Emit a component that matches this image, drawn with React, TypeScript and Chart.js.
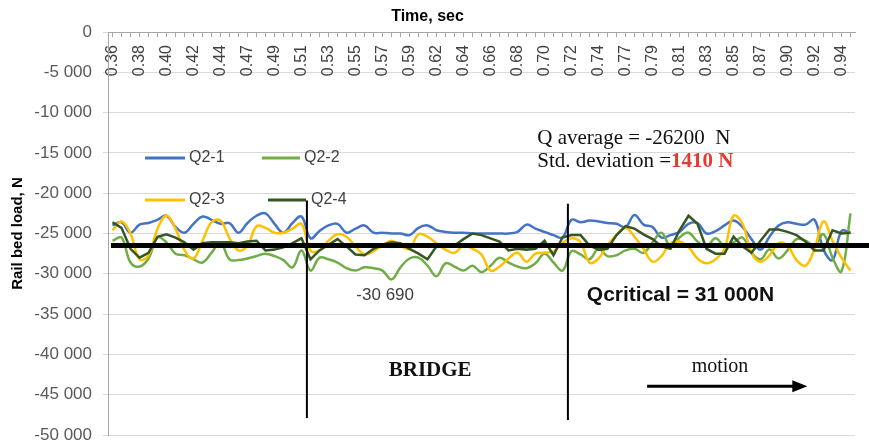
import React, { useEffect, useRef } from 'react';
import { Chart, registerables } from 'chart.js';

Chart.register(...registerables);

// ---- data ----
const timeTicks = [
  '0.36', '0.38', '0.40', '0.42', '0.44', '0.47', '0.49', '0.51', '0.53', '0.55',
  '0.57', '0.59', '0.62', '0.64', '0.66', '0.68', '0.70', '0.72', '0.74', '0.77',
  '0.79', '0.81', '0.83', '0.85', '0.87', '0.90', '0.92', '0.94',
];
const pointsPerTick = 3;

const q21 = [
  -24000, -23600, -24900, -23900, -23700, -23300, -22800, -24200, -24900, -23800,
  -22900, -23300, -23800, -23700, -24900, -23700, -22800, -22500, -23800, -24900,
  -23700, -22900, -25600, -24700, -24000, -23800, -24900, -24400, -24000, -24900,
  -24900, -25000, -25000, -25200, -24300, -24000, -24600, -24800, -24900, -24900,
  -25000, -25000, -25000, -25000, -25000, -24800, -23900, -24400, -24800, -25200,
  -25500, -23300, -23600, -23400, -23500, -23700, -23800, -24200, -22700, -23900,
  -24200, -25500, -25200, -24800, -23800, -23700, -25000, -24700, -24000, -23400,
  -24200, -25700, -27000, -25400, -24000, -23600, -23800, -23900, -23300, -27000,
  -28300, -24700, -24900,
];
const q22 = [
  -25900, -25500, -28600, -29100, -28100, -25500, -26100, -27500, -27700, -28200,
  -28600, -27400, -26100, -28200, -28300, -28100, -27800, -27500, -27800, -28300,
  -29200, -27100, -29600, -28000, -28200, -28600, -29300, -29600, -29200, -29300,
  -29600, -30690, -29200, -28100, -28000, -29000, -30300, -28700, -29100, -29600,
  -29000, -29800, -29000, -28000, -28600, -29100, -29300, -28700, -27500, -28600,
  -29600, -27200, -27600, -28200, -26900, -27800, -27700, -27100, -26900, -27400,
  -26100, -24900, -26600, -25500, -24900, -26000, -26600, -25600, -26500, -26100,
  -25500, -27400, -28200, -27000, -28100, -27100, -25700, -25900, -26500, -25100,
  -28000, -29700, -22500,
];
const q23 = [
  -24600, -23500, -25000, -28200, -27700, -24400, -22800, -24400, -27100, -28100,
  -25900, -23600, -23400, -25600, -27100, -26500, -24100, -24300, -24900, -24900,
  -24400, -23800, -27100, -27100, -25900, -25100, -25400, -26600, -27600, -27200,
  -26500, -25900, -26500, -26900, -25100, -25400, -26200, -27000, -27400, -26500,
  -26900, -27600, -29600, -29100, -28100, -27400, -28500, -27500, -27400, -27200,
  -26200, -25600, -26100, -28600, -28100, -26400, -25200, -24300, -25400, -26900,
  -28500, -27800, -26200, -26000, -26700, -28100, -28700, -28200, -26900, -22800,
  -23800, -27400, -28500, -27700, -26200, -26500, -28300, -29000, -26900, -23500,
  -25900, -28000, -29600,
];
const q24 = [
  -23600, -24300, -26900, -28000, -27400, -25400, -25100, -25500, -26100, -27000,
  -26200, -26100, -26100, -26100, -26200, -26000, -25900, -27100, -27000, -26700,
  -26200, -25600, -28200, -27100, -26400, -25700, -26600, -27600, -27700, -26900,
  -26400, -26100, -26200, -26900, -27500, -28200, -26600, -26500, -26500, -25700,
  -25000, -25200, -25600, -26000, -27100, -26900, -27000, -26900, -25900, -27700,
  -25500, -25200, -25200, -26500, -27000, -26900, -25200, -24100, -24400, -25100,
  -25700, -26600, -26900, -24600, -22800, -23800, -26900, -27500, -27500, -25400,
  -26600, -27400, -25900, -24500, -24500, -24800, -25200, -26000, -27100, -27100,
  -24600, -25000, -24900,
];

const seriesNames = ['Q2-1', 'Q2-2', 'Q2-3', 'Q2-4'];
const seriesValues = [q21, q22, q23, q24];
const seriesColors = ['#4472c4', '#70ad47', '#ffc000', '#375623'];
const seriesTension = [0.4, 0.4, 0.4, 0];

const yMin = -50000;
const yMax = 0;
const yStep = 5000;

// annotation values (data coordinates: x = point index, y = load)
const qAverageLineValue = -26500;
const bridgeLines = [
  { index: 21.6, from: -20900, to: -47900 },
  { index: 50.6, from: -21300, to: -48150 },
];
const minLabel = { text: '-30 690', index: 30.3, value: -32670 };
const qCritical = { text: 'Qcritical = 31 000N', index: 52.7, value: -32670 };
const bridgeLabel = { text: 'BRIDGE', index: 35.3, value: -41950 };
const motionLabel = { text: 'motion', index: 67.5, value: -41500 };
const motionArrow = { fromIndex: 59.4, toIndex: 77.2, value: -43940 };
const qAvgText = { text: 'Q average = -26200  N', index: 47.2, value: -13240 };
const stdText = { text: 'Std. deviation =', red: '1410 N', index: 47.2, value: -16090 };

const categories = seriesValues[0].map((_, i) =>
  i % pointsPerTick === 0 ? timeTicks[i / pointsPerTick] ?? '' : ''
);

const fmt = (v: number) => {
  const s = String(Math.abs(v)).replace(/\B(?=(\d{3})+(?!\d))/g, ' ');
  return v < 0 ? '-' + s : s;
};

const SANS = '"Liberation Sans", Arial, sans-serif';
const SERIF = '"Liberation Serif", "Times New Roman", serif';

const legendLayout = [
  { x0: 145, x1: 185, tx: 189, y: 158 },
  { x0: 262, x1: 300, tx: 304, y: 158 },
  { x0: 145, x1: 185, tx: 189, y: 200 },
  { x0: 268, x1: 306, tx: 311, y: 200 },
];

const annotationPlugin = {
  id: 'annotations',
  afterDatasetsDraw(chart: any) {
    const { ctx, chartArea } = chart;
    const x = chart.scales.x;
    const y = chart.scales.y;
    ctx.save();

    // average line
    const ya = y.getPixelForValue(qAverageLineValue);
    ctx.strokeStyle = '#000';
    ctx.lineWidth = 5;
    ctx.beginPath();
    ctx.moveTo(chartArea.left + 3, ya);
    ctx.lineTo(chart.width, ya);
    ctx.stroke();

    // bridge lines
    ctx.lineWidth = 2;
    bridgeLines.forEach((b) => {
      const bx = x.getPixelForValue(b.index);
      ctx.beginPath();
      ctx.moveTo(bx, y.getPixelForValue(b.from));
      ctx.lineTo(bx, y.getPixelForValue(b.to));
      ctx.stroke();
    });

    // arrow
    const ay = y.getPixelForValue(motionArrow.value);
    const ax0 = x.getPixelForValue(motionArrow.fromIndex);
    const ax1 = x.getPixelForValue(motionArrow.toIndex);
    ctx.lineWidth = 3;
    ctx.beginPath();
    ctx.moveTo(ax0, ay);
    ctx.lineTo(ax1 - 12, ay);
    ctx.stroke();
    ctx.fillStyle = '#000';
    ctx.beginPath();
    ctx.moveTo(ax1, ay);
    ctx.lineTo(ax1 - 15, ay - 6);
    ctx.lineTo(ax1 - 15, ay + 6);
    ctx.closePath();
    ctx.fill();

    ctx.textBaseline = 'middle';
    // -30 690
    ctx.font = `17px ${SANS}`;
    ctx.fillStyle = '#404040';
    ctx.textAlign = 'center';
    ctx.fillText(minLabel.text, x.getPixelForValue(minLabel.index), y.getPixelForValue(minLabel.value));

    // Qcritical
    ctx.font = `bold 21px ${SANS}`;
    ctx.fillStyle = '#111';
    ctx.textAlign = 'left';
    ctx.fillText(qCritical.text, x.getPixelForValue(qCritical.index), y.getPixelForValue(qCritical.value));

    // BRIDGE
    ctx.font = `bold 21px ${SERIF}`;
    ctx.textAlign = 'center';
    ctx.fillText(bridgeLabel.text, x.getPixelForValue(bridgeLabel.index), y.getPixelForValue(bridgeLabel.value));

    // motion
    ctx.font = `20px ${SERIF}`;
    ctx.fillText(motionLabel.text, x.getPixelForValue(motionLabel.index), y.getPixelForValue(motionLabel.value));

    // Q average & std
    ctx.textAlign = 'left';
    ctx.font = `21px ${SERIF}`;
    const tx = x.getPixelForValue(qAvgText.index);
    ctx.fillText(qAvgText.text, tx, y.getPixelForValue(qAvgText.value));
    const sy = y.getPixelForValue(stdText.value);
    ctx.fillText(stdText.text, tx, sy);
    const w = ctx.measureText(stdText.text).width;
    ctx.font = `bold 21px ${SERIF}`;
    ctx.fillStyle = '#e03c31';
    ctx.fillText(stdText.red, tx + w, sy);

    // legend
    ctx.font = `16px ${SANS}`;
    ctx.fillStyle = '#404040';
    ctx.lineWidth = 3;
    seriesNames.forEach((name, i) => {
      const l = legendLayout[i];
      ctx.strokeStyle = seriesColors[i];
      ctx.beginPath();
      ctx.moveTo(l.x0, l.y);
      ctx.lineTo(l.x1, l.y);
      ctx.stroke();
      ctx.fillText(name, l.tx, l.y);
    });

    ctx.restore();
  },
};

export default function App() {
  const ref = useRef<HTMLCanvasElement | null>(null);

  useEffect(() => {
    if (!ref.current) return;
    const chart = new Chart(ref.current, {
      type: 'line',
      data: {
        labels: categories,
        datasets: seriesNames.map((name, i) => ({
          label: name,
          data: seriesValues[i],
          borderColor: seriesColors[i],
          backgroundColor: seriesColors[i],
          borderWidth: 2.5,
          pointRadius: 0,
          tension: seriesTension[i],
          fill: false,
          order: 4 - i,
        })),
      },
      options: {
        animation: false,
        responsive: false,
        layout: { padding: { left: 0, right: 14, bottom: 7, top: 0 } },
        plugins: {
          legend: { display: false },
          tooltip: { enabled: false },
          title: {
            display: true,
            text: 'Time, sec',
            color: '#000',
            font: { family: SANS, size: 16, weight: 'bold', lineHeight: 1 },
            padding: { top: 9, bottom: 7 },
          },
        },
        scales: {
          x: {
            type: 'category',
            position: { y: 0 } as any,
            offset: true,
            afterFit: (scale: any) => {
              scale.paddingLeft = 0;
              scale.paddingRight = 0;
              scale.paddingTop = 0;
              scale.paddingBottom = 0;
              scale.height = 0;
            },
            border: { display: true, color: '#a6a6a6', width: 1 },
            grid: {
              display: true,
              drawOnChartArea: false,
              drawTicks: true,
              tickLength: 4,
              color: '#a6a6a6',
            },
            ticks: {
              autoSkip: false,
              minRotation: 90,
              maxRotation: 90,
              padding: 9,
              color: '#404040',
              font: { family: SANS, size: 16 },
            },
          },
          y: {
            min: yMin,
            max: yMax,
            afterFit: (scale: any) => {
              scale.width = 108;
              scale.paddingTop = 0;
              scale.paddingBottom = 0;
            },
            border: { display: true, color: '#a6a6a6', width: 1 },
            grid: { color: '#d9d9d9', tickLength: 5, lineWidth: 1 },
            ticks: {
              stepSize: yStep,
              padding: 11,
              color: '#595959',
              font: { family: SANS, size: 17, lineHeight: 0.8 },
              callback: (v: any) => fmt(Number(v)),
            },
            title: {
              display: true,
              text: 'Rail bed load, N',
              color: '#000',
              font: { family: SANS, size: 15, weight: 'bold', lineHeight: 1.2 },
              padding: { top: 9, bottom: 0 },
            },
          },
        },
      },
      plugins: [annotationPlugin],
    });
    return () => chart.destroy();
  }, []);

  return (
    <div style={{ position: 'absolute', left: 0, top: 0, width: 869, height: 442, background: '#fff' }}>
      <canvas ref={ref} width={869} height={442} style={{ display: 'block' }} />
    </div>
  );
}
